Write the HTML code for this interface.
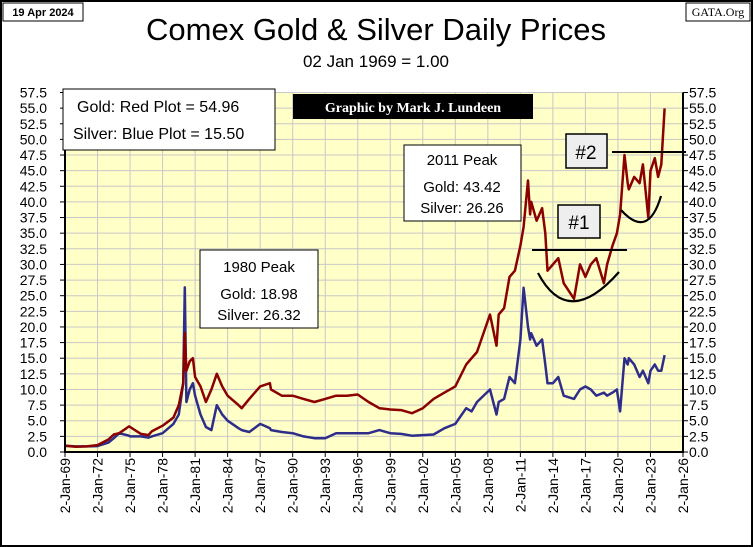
<!DOCTYPE html>
<html><head><meta charset="utf-8"><style>
body{margin:0;background:#fff;}
svg{display:block;font-family:"Liberation Sans",sans-serif;}
</style></head><body>
<svg id="c" width="753" height="547" viewBox="0 0 753 547">
<rect x="1" y="1" width="751" height="545" fill="#fff" stroke="#000" stroke-width="2"/>
<rect x="3" y="3" width="80" height="18" fill="#fff" stroke="#000"/>
<text x="43" y="16" font-size="11" font-weight="bold" text-anchor="middle">19 Apr 2024</text>
<rect x="686" y="3" width="64" height="18" fill="#fff" stroke="#000"/>
<text x="718" y="16" font-size="12" font-family="Liberation Serif,serif" text-anchor="middle">GATA.Org</text>
<text x="376" y="40" font-size="31" text-anchor="middle">Comex Gold &amp; Silver Daily Prices</text>
<text x="376" y="67" font-size="17" text-anchor="middle">02 Jan 1969 = 1.00</text>
<rect x="65" y="92.5" width="618" height="359.5" fill="#ffffc8"/>
<g id="grid"></g>
<g id="series"></g>
<g id="axes"></g>
<rect x="63" y="89" width="212" height="61" fill="#fff" stroke="#000"/>
<text x="77" y="112" font-size="16">Gold: Red Plot =  54.96</text>
<text x="73" y="139" font-size="16">Silver: Blue Plot = 15.50</text>
<rect x="293" y="94" width="240" height="25" fill="#000"/>
<text x="413" y="112" font-size="14" font-weight="bold" fill="#fff" font-family="Liberation Serif,serif" text-anchor="middle">Graphic by Mark J. Lundeen</text>
<rect x="200" y="250" width="118" height="78" fill="#fff" stroke="#000"/>
<text x="259" y="272" font-size="15" text-anchor="middle">1980 Peak</text>
<text x="259" y="299" font-size="15" text-anchor="middle">Gold:  18.98</text>
<text x="259" y="320" font-size="15" text-anchor="middle">Silver: 26.32</text>
<rect x="404" y="145" width="117" height="76" fill="#fff" stroke="#000"/>
<text x="462" y="165" font-size="15" text-anchor="middle">2011 Peak</text>
<text x="462" y="192" font-size="15" text-anchor="middle">Gold:  43.42</text>
<text x="462" y="213" font-size="15" text-anchor="middle">Silver: 26.26</text>
<line x1="532" y1="250" x2="627" y2="250" stroke="#000" stroke-width="2"/>
<line x1="612" y1="152" x2="686" y2="152" stroke="#000" stroke-width="2"/>
<path d="M538,273 Q568,330 619,272" fill="none" stroke="#000" stroke-width="2.2"/>
<path d="M621,210 Q648,240 661,196" fill="none" stroke="#000" stroke-width="2.2"/>
<rect x="558" y="205" width="42" height="33" fill="#eee" stroke="#000" stroke-width="1.5"/>
<text x="579" y="229" font-size="19" text-anchor="middle">#1</text>
<rect x="566" y="134" width="41" height="34" fill="#eee" stroke="#000" stroke-width="1.5"/>
<text x="586" y="159" font-size="19" text-anchor="middle">#2</text>
</svg>
<script>
const years=[1969,1970,1971,1972,1973,1973.5,1974,1974.9,1975,1976,1976.7,1977,1978,1979,1979.5,1979.9,1980.05,1980.2,1980.5,1980.8,1981,1981.5,1982,1982.5,1983,1983.5,1984,1985,1985.3,1986,1987,1987.9,1988,1989,1990,1991,1992,1993,1994,1995,1996,1997,1998,1999,2000,2001,2002,2003,2004,2005,2006,2006.5,2007,2008.2,2008.8,2009,2009.5,2010,2010.5,2011,2011.3,2011.7,2011.9,2012,2012.5,2013,2013.3,2013.5,2014,2014.5,2015,2015.95,2016.5,2017,2017.5,2018,2018.7,2019,2019.5,2019.9,2020.2,2020.6,2020.9,2021,2021.5,2022,2022.3,2022.8,2023,2023.4,2023.7,2024,2024.3];
const gold=[1.0,0.85,0.9,1.1,2.0,2.8,3.0,4.1,4.0,2.9,2.7,3.3,4.2,5.5,7.5,11,18.98,13,14.5,15,12,10.5,8,10,12.5,10.5,9,7.5,7,8.5,10.5,11,10,9,9,8.5,8,8.5,9,9,9.2,8,7,6.8,6.7,6.2,7,8.5,9.5,10.5,14,15,16,22,17,22,23,28,29,33,36,43.42,38,40,37,39,35,29,30,31,27,24.5,30,28,30,31,27,30,33,35,38,47.5,43,42,44,43,46,37.5,45,47,44,46,54.96];
const silver=[1.0,0.9,0.9,0.95,1.5,2.2,3.0,2.6,2.5,2.5,2.3,2.5,3,4.5,6,11,26.32,8,10,11,9,6,4,3.5,7.5,6,5,3.8,3.5,3.2,4.5,3.8,3.5,3.2,3,2.5,2.2,2.2,3,3,3,3,3.5,3,2.9,2.6,2.7,2.8,3.8,4.5,7,6.5,8,10,6,8,8.5,12,11,18,26.26,20,18,19,17,18,14,11,11,12,9,8.5,10,10.5,10,9,9.5,9,9.5,10,6.5,15,14,15,14,12,13,11,13,14,13,13,15.5];
const yTicks=[0,2.5,5,7.5,10,12.5,15,17.5,20,22.5,25,27.5,30,32.5,35,37.5,40,42.5,45,47.5,50,52.5,55,57.5];
const xTicks=[1969,1972,1975,1978,1981,1984,1987,1990,1993,1996,1999,2002,2005,2008,2011,2014,2017,2020,2023,2026];
const NS="http://www.w3.org/2000/svg";
const X0=65,X1=683,Y0=452,Y1=92.5;
const xs=v=>X0+(v-1969)/(2026-1969)*(X1-X0);
const ys=v=>Y0-v/57.5*(Y0-Y1);
function mk(tag,attrs,parent){const e=document.createElementNS(NS,tag);for(const k in attrs)e.setAttribute(k,attrs[k]);document.getElementById(parent).appendChild(e);return e;}
yTicks.forEach(t=>{
  const g=mk('line',{x1:X0,x2:X1,y1:ys(t),y2:ys(t),stroke:'#c8c8c8','stroke-width':1},'grid');
  
  
  const l=mk('text',{x:47,y:ys(t)+5,'font-size':14,'text-anchor':'end'},'axes');l.textContent=t.toFixed(1);
  
  
  const r=mk('text',{x:689,y:ys(t)+5,'font-size':14},'axes');r.textContent=t.toFixed(1);
  
  
  const tk=mk('line',{x1:X1,x2:X1+5,y1:ys(t),y2:ys(t),stroke:'#000'},'axes');
  
  
  const tk2=mk('line',{x1:X0-5,x2:X0,y1:ys(t),y2:ys(t),stroke:'#000'},'axes');
  
  
});
xTicks.forEach(t=>{
  const x=xs(t);
  const g=mk('line',{x1:x,x2:x,y1:Y1,y2:Y0,stroke:'#c8c8c8','stroke-width':1},'grid');
  
  
  const tk=mk('line',{x1:x,x2:x,y1:Y0,y2:Y0+5,stroke:'#000'},'axes');
  
  
  const l=mk('text',{x:0,y:0,'font-size':14,'text-anchor':'end',transform:`translate(${x+5},458) rotate(-90)`},'axes');
  l.textContent='2-Jan-'+String(t).slice(2);
  
  
});
const ax=mk('path',{d:`M${X0},${Y1} V${Y0} H${X1} V${Y1}`,fill:'none',stroke:'#000','stroke-width':2},'axes');


function series(vals,color,name){
  const d=years.map((y,i)=>(i?'L':'M')+xs(y).toFixed(1)+','+ys(vals[i]).toFixed(1)).join('');
  const p=mk('path',{d:d,fill:'none',stroke:color,'stroke-width':2.5,'stroke-linejoin':'round'},'series');
  
  
}
series(silver,'#2e2e8a','silver-line');
series(gold,'#8b0000','gold-line');
</script>
</body></html>
